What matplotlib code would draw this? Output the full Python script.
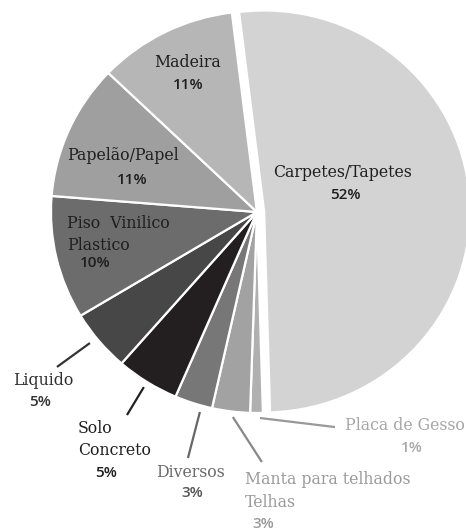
import matplotlib
matplotlib.use('Agg')
import matplotlib.pyplot as plt

# ------------------------------------------------------------
#   D A T A
# ------------------------------------------------------------
names = ['Carpetes/Tapetes', 'Placa de Gesso', 'Manta para telhados\nTelhas',
         'Diversos', 'Solo\nConcreto', 'Liquido', 'Piso  Vinilico\nPlastico',
         'Papelão/Papel', 'Madeira']
values = [52, 1, 3, 3, 5, 5, 10, 11, 11]
pct_labels = ['52%', '1%', '3%', '3%', '5%', '5%', '10%', '11%', '11%']

# ------------------------------------------------------------
#   S T Y L E
# ------------------------------------------------------------
wedge_colors = ['#d3d3d3', '#b0b0b0', '#a2a2a2', '#777777', '#231f20',
                '#474747', '#6c6c6c', '#9f9f9f', '#b6b6b6']
name_colors = ['#1e1e1e', '#a6a6a6', '#9a9a9a', '#6a6a6a', '#1e1e1e',
               '#2e2e2e', '#1e1e1e', '#1e1e1e', '#1e1e1e']
pct_colors = ['#1e1e1e', '#aaaaaa', '#999999', '#555555', '#1e1e1e',
              '#333333', '#1e1e1e', '#1e1e1e', '#1e1e1e']
line_colors = [None, '#999999', '#888888', '#666666', '#222222',
               '#333333', None, None, None]

# first line of name, alignment, pct pos, leader line (outer -> pie)
name_pos = [(0.417, 0.199), (0.718, -1.060), (-0.058, -1.333), (-0.325, -1.294),
            (-0.869, -1.075), (-1.039, -0.836), (-0.922, -0.055),
            (-0.650, 0.279), (-0.335, 0.746)]
line_step = 0.112
name_ha = ['center', 'center', 'left', 'center', 'left', 'center', 'left',
           'center', 'center']
pct_pos = [(0.427, 0.085), (0.752, -1.174), (0.029, -1.552), (-0.316, -1.398),
           (-0.733, -1.299), (-1.053, -0.945), (-0.786, -0.254),
           (-0.607, 0.159), (-0.335, 0.632)]
leaders = [None,
           ((0.379, -1.070), (0.015, -1.025)),
           ((0.024, -1.244), (-0.117, -1.020)),
           ((-0.335, -1.224), (-0.277, -0.995)),
           ((-0.631, -1.010), (-0.549, -0.871)),
           ((-0.971, -0.771), (-0.811, -0.652)),
           None, None, None]

fig = plt.figure(figsize=(4.66, 5.32), dpi=100)
ax = fig.add_axes([0.1094, 0.2237, 0.884, 0.7556])

explode = [0.035, 0, 0, 0, 0, 0, 0, 0, 0]
ax.pie(values, colors=wedge_colors, startangle=97, counterclock=False,
       explode=explode, radius=1.0,
       wedgeprops={'edgecolor': 'white', 'linewidth': 1.6})
ax.set_xlim(-1, 1)
ax.set_ylim(-1, 1)
ax.set_aspect('auto')
ax.axis('off')

for i in range(len(names)):
    for k, line in enumerate(names[i].split('\n')):
        ax.text(name_pos[i][0], name_pos[i][1] - k * line_step, line,
                ha=name_ha[i], va='center', family='DejaVu Serif',
                fontsize=11.3, color=name_colors[i], clip_on=False)
    ax.text(pct_pos[i][0], pct_pos[i][1], pct_labels[i], ha='center', va='center',
            family='Open Sans', fontweight='semibold', fontsize=11,
            color=pct_colors[i], clip_on=False)
    if leaders[i] is not None:
        (x0, y0), (x1, y1) = leaders[i]
        ax.plot([x0, x1], [y0, y1], color=line_colors[i], lw=1.6,
                solid_capstyle='butt', clip_on=False)

fig.savefig('out.png', dpi=100, facecolor='white')
